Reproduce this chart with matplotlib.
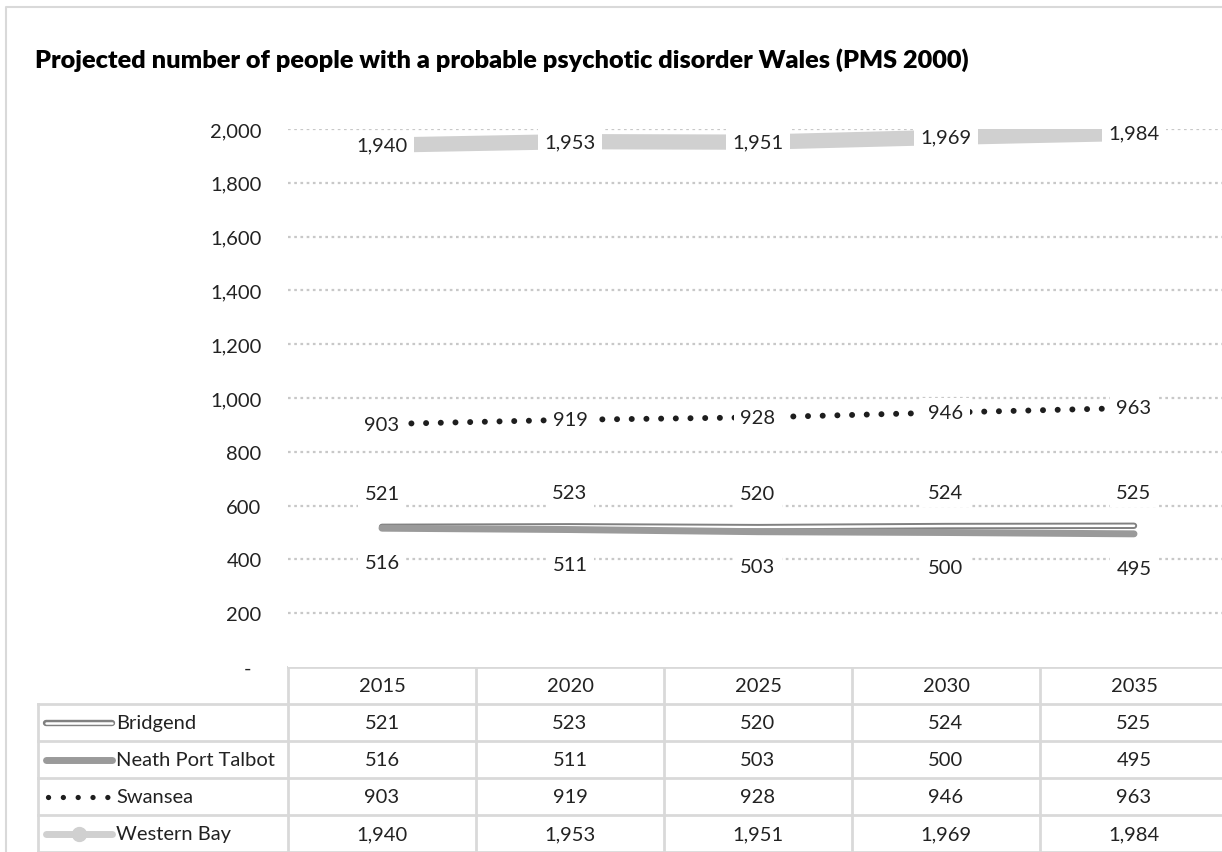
import matplotlib.pyplot as plt
import numpy as np

plt.rcParams['font.family'] = ['Lato', 'DejaVu Sans']

years = ['2015', '2020', '2025', '2030', '2035']
bridgend = [521, 523, 520, 524, 525]
neath = [516, 511, 503, 500, 495]
swansea = [903, 919, 928, 946, 963]
western_bay = [1940, 1953, 1951, 1969, 1984]
series_names = ['Bridgend', 'Neath Port Talbot', 'Swansea', 'Western Bay']
title = 'Projected number of people with a probable psychotic disorder Wales (PMS 2000)'

W, H = 1222, 853
fig = plt.figure(figsize=(W / 100, H / 100), dpi=100)

# overlay axes in pixel coords for border, title, table
bg = fig.add_axes([0, 0, 1, 1])
bg.set_xlim(0, W)
bg.set_ylim(H, 0)
bg.axis('off')

# chart border (cropped on right/bottom)
bg.plot([6, 6, W + 5], [H + 5, 8, 8], color='#d9d9d9', lw=1.5)

bg.text(35, 60, title, fontsize=18.2, fontweight='heavy', color='black', va='center', ha='left')

# main plot area
x0, x1 = 288, 288 + 188 * 5
y0, y1 = 668, 130
ax = fig.add_axes([x0 / W, (H - y0) / H, (x1 - x0) / W, (y0 - y1) / H])
ax.set_xlim(-0.5, 4.5)
ax.set_ylim(0, 2000)
for s in ax.spines.values():
    s.set_visible(False)
ax.set_xticks([])
yt = np.arange(0, 2001, 200)
ax.set_yticks(yt)
ax.set_yticklabels(['-  '] + [f'{v:,}' for v in yt[1:]], fontsize=14.5, color='#222222')
ax.tick_params(axis='y', length=0, pad=19)
for v in yt[1:]:
    ax.axhline(v, color='#c8c8c8', lw=1.6, linestyle=(0, (1.2, 1.6)), zorder=0)

x = np.arange(len(years))
fs = 14.5
lbl = dict(fontsize=fs, color='#222222', ha='center', va='center',
           bbox=dict(boxstyle='square,pad=0.3', fc='white', ec='none'), zorder=10)

# Western Bay
ax.plot(x, western_bay, color='#d0d0d0', lw=11, marker='o', ms=14, solid_capstyle='butt', zorder=3)
for xi, v in zip(x, western_bay):
    ax.text(xi, v, f'{v:,}', **lbl)

# Swansea
ax.plot(x, swansea, color='#1e1e1e', lw=4.3, linestyle=(0, (0.01, 2.45)),
        dash_capstyle='round', zorder=3)
for xi, v in zip(x, swansea):
    ax.text(xi, v, f'{v:,}', **lbl)

# Bridgend (double line)
ax.plot(x, bridgend, color='#808080', lw=4.6, solid_capstyle='round', zorder=3)
ax.plot(x, bridgend, color='white', lw=1.8, solid_capstyle='round', zorder=3)
for xi, v in zip(x, bridgend):
    ax.annotate(f'{v:,}', (xi, v), xytext=(0, 24), textcoords='offset points', **lbl)

# Neath Port Talbot
ax.plot(x, neath, color='#9a9a9a', lw=5, solid_capstyle='round', zorder=4)
for xi, v in zip(x, neath):
    ax.annotate(f'{v:,}', (xi, v), xytext=(0, -25), textcoords='offset points', **lbl)

# data table
grid_c = '#d9d9d9'
rows_y = [668, 705, 742, 779, 816, 853]
col_x = [288 + 188 * i for i in range(6)]
tleft = 38
bg.plot([x0, W + 5], [rows_y[0], rows_y[0]], color=grid_c, lw=2)
for yy in rows_y[1:]:
    bg.plot([tleft, W + 5], [yy, yy], color=grid_c, lw=2)
bg.plot([tleft, tleft], [rows_y[1], H + 5], color=grid_c, lw=2)
for i, cx in enumerate(col_x):
    top = rows_y[0]
    bg.plot([cx, cx], [top, H + 5], color=grid_c, lw=2)

tfs = 14.5
for i, yr in enumerate(years):
    bg.text(col_x[i] + 94, (rows_y[0] + rows_y[1]) / 2, yr, fontsize=tfs, ha='center', va='center', color='#222222')
table_data = [bridgend, neath, swansea, western_bay]
for r, (name, vals) in enumerate(zip(series_names, table_data)):
    cy = (rows_y[r + 1] + rows_y[r + 2]) / 2
    bg.text(116, cy, name, fontsize=tfs, ha='left', va='center', color='#222222')
    for i, v in enumerate(vals):
        bg.text(col_x[i] + 94, cy, f'{v:,}', fontsize=tfs, ha='center', va='center', color='#222222')

# legend keys in table
ky = [(rows_y[k] + rows_y[k + 1]) / 2 for k in range(1, 5)]
bg.plot([46, 112], [ky[0], ky[0]], color='#808080', lw=4.6, solid_capstyle='round')
bg.plot([46, 112], [ky[0], ky[0]], color='white', lw=1.8, solid_capstyle='round')
bg.plot([46, 112], [ky[1], ky[1]], color='#9a9a9a', lw=5, solid_capstyle='round')
bg.plot([48, 112], [ky[2], ky[2]], color='#1e1e1e', lw=3.8, linestyle=(0, (0.01, 2.8)), dash_capstyle='round')
bg.plot([46, 112], [ky[3], ky[3]], color='#d0d0d0', lw=5, solid_capstyle='round')
bg.plot([79], [ky[3]], marker='o', ms=10, color='#d0d0d0')

fig.savefig('out.png', dpi=100)
